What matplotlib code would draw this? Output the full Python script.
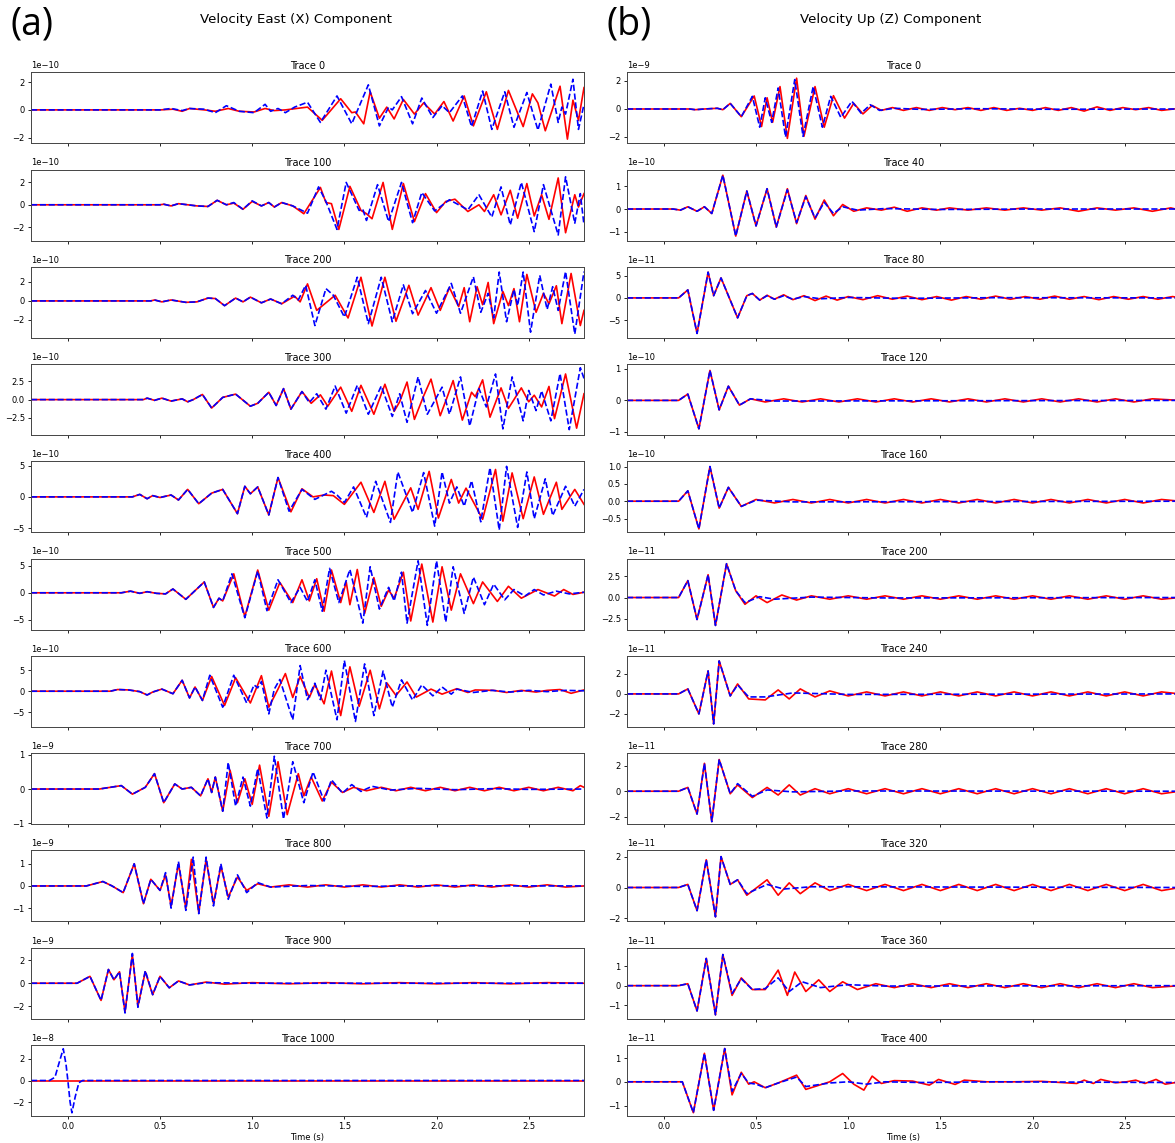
import numpy as np
import matplotlib.pyplot as plt

# ---- panel setup ----
east_traces = [0, 100, 200, 300, 400, 500, 600, 700, 800, 900, 1000]
east_scale = [1e-10] * 7 + [1e-9] * 3 + [1e-8]
east_ylim = [(-2.4, 2.7), (-3.2, 3.15), (-3.9, 3.6), (-4.85, 4.85), (-5.7, 5.7),
             (-6.8, 6.3), (-8.5, 8.4), (-1.03, 1.05), (-1.6, 1.6), (-3.1, 3.1), (-3.3, 3.3)]
east_yticks = [[-2, 0, 2], [-2, 0, 2], [-2, 0, 2], [-2.5, 0, 2.5], [-5, 0, 5],
               [-5, 0, 5], [-5, 0, 5], [-1, 0, 1], [-1, 0, 1], [-2, 0, 2], [-2, 0, 2]]

up_traces = [0, 40, 80, 120, 160, 200, 240, 280, 320, 360, 400]
up_scale = [1e-9, 1e-10, 1e-11, 1e-10, 1e-10, 1e-11, 1e-11, 1e-11, 1e-11, 1e-11, 1e-11]
up_ylim = [(-2.45, 2.62), (-1.4, 1.75), (-9.0, 7.0), (-1.1, 1.15), (-0.9, 1.15),
           (-3.8, 4.6), (-3.3, 3.8), (-2.6, 3.0), (-2.2, 2.4), (-1.7, 1.95), (-1.44, 1.55)]
up_yticks = [[-2, 0, 2], [-1, 0, 1], [-5, 0, 5], [-1, 0, 1], [-0.5, 0.0, 0.5, 1.0],
             [-2.5, 0.0, 2.5], [-2, 0, 2], [-2, 0, 2], [-2, 0, 2], [-1, 0, 1], [-1, 0, 1]]

# ---- east component waveforms (time s, amplitude in panel units) ----
x0_red = [(-0.2, 0), (0.50, 0), (0.57, 0.05), (0.62, -0.1), (0.66, 0.1), (0.74, 0.0), (0.80, -0.1),
          (0.87, 0.1), (0.93, -0.1), (1.01, -0.15), (1.07, 0.1), (1.12, -0.05), (1.18, 0.0), (1.24, 0.1),
          (1.30, 0.2), (1.38, -0.75), (1.48, 0.8), (1.54, -0.2), (1.56, -0.15), (1.605, -1.0), (1.64, 1.3),
          (1.69, -0.6), (1.73, 0.2), (1.77, -0.65), (1.82, 0.75), (1.88, -0.3), (1.93, 0.5), (1.99, -0.3),
          (2.04, 0.6), (2.09, -0.8), (2.15, 1.0), (2.20, -1.15), (2.27, 1.3), (2.33, -1.4), (2.39, 1.4),
          (2.47, -1.2), (2.52, 1.15), (2.55, 0.5), (2.59, -1.5), (2.67, 1.7), (2.71, -2.1), (2.74, 0.7),
          (2.77, -0.75), (2.80, 1.6)]
x0_blue = [(-0.2, 0), (0.50, 0), (0.56, 0.1), (0.62, -0.05), (0.66, 0.1), (0.74, 0.05), (0.80, -0.2),
           (0.86, 0.3), (0.93, -0.1), (1.01, -0.2), (1.07, 0.4), (1.10, -0.1), (1.14, 0.1), (1.18, -0.2),
           (1.23, 0.2), (1.30, 0.55), (1.37, -0.9), (1.46, 1.0), (1.54, -1.0), (1.63, 1.8), (1.69, -1.15),
           (1.74, 0.2), (1.76, 0.0), (1.81, 0.95), (1.87, -1.0), (1.92, 0.85), (1.98, -0.55), (2.03, 0.3),
           (2.07, -0.2), (2.14, 1.0), (2.19, -1.2), (2.25, 1.35), (2.30, -1.4), (2.37, 1.3), (2.42, -1.25),
           (2.49, 1.25), (2.55, -1.45), (2.62, 1.85), (2.66, -0.9), (2.68, 0.2), (2.70, -0.3), (2.74, 2.2),
           (2.77, -1.4), (2.80, 0.4)]

x100_red = [(-0.2, 0), (0.50, 0), (0.52, 0.05), (0.56, -0.1), (0.60, 0.1), (0.65, 0.0), (0.70, -0.1),
            (0.76, -0.15), (0.81, 0.4), (0.86, 0.0), (0.90, 0.15), (0.95, -0.4), (1.00, 0.3), (1.05, -0.1),
            (1.09, 0.2), (1.12, -0.2), (1.16, 0.2), (1.22, -0.1), (1.28, -0.8), (1.37, 1.55), (1.40, 0.2),
            (1.43, 0.1), (1.47, -2.2), (1.53, 1.65), (1.59, -0.5), (1.62, -0.8), (1.65, -1.25), (1.71, 2.0),
            (1.76, -2.2), (1.82, 1.9), (1.88, -1.5), (1.94, 1.0), (2.00, -0.7), (2.05, 0.3), (2.10, 0.5),
            (2.17, -0.6), (2.23, 0.0), (2.26, -0.6), (2.31, 0.9), (2.35, -0.9), (2.40, 1.3), (2.44, -1.2),
            (2.49, 1.9), (2.53, -1.0), (2.57, 0.9), (2.61, -1.3), (2.66, 2.4), (2.70, -2.5), (2.75, 0.9),
            (2.77, -0.2), (2.80, 1.0)]
x100_blue = [(-0.2, 0), (0.50, 0), (0.52, 0.05), (0.56, -0.1), (0.60, 0.1), (0.65, 0.0), (0.70, -0.1),
             (0.76, -0.15), (0.81, 0.4), (0.86, 0.0), (0.90, 0.2), (0.95, -0.4), (1.00, 0.35), (1.05, -0.1),
             (1.09, 0.2), (1.12, -0.2), (1.16, 0.2), (1.22, -0.1), (1.30, -0.75), (1.36, 1.6), (1.40, 0.3),
             (1.46, -2.2), (1.51, 2.0), (1.58, -0.5), (1.60, -0.4), (1.62, -1.4), (1.68, 1.8), (1.74, -1.5),
             (1.81, 2.0), (1.87, -1.6), (1.92, 1.1), (1.99, -0.55), (2.07, 0.45), (2.17, -0.45), (2.23, 0.9),
             (2.30, -1.1), (2.35, 1.6), (2.40, -1.8), (2.46, 2.0), (2.53, -2.4), (2.58, 1.8), (2.66, -2.7),
             (2.70, 2.5), (2.75, -1.65), (2.78, 1.0), (2.80, -1.8)]

x200_red = [(-0.2, 0), (0.45, 0), (0.47, 0.1), (0.51, -0.1), (0.56, 0.1), (0.64, -0.15), (0.70, -0.1),
            (0.76, 0.3), (0.80, 0.25), (0.85, -0.5), (0.91, 0.3), (0.95, -0.1), (0.99, 0.4), (1.05, -0.2),
            (1.10, 0.2), (1.16, -0.3), (1.23, 0.5), (1.26, -0.1), (1.30, 1.8), (1.35, -1.0), (1.45, 0.6),
            (1.52, -1.8), (1.59, 2.5), (1.65, -2.65), (1.72, 2.5), (1.78, -2.15), (1.85, 1.65), (1.90, -1.5),
            (1.97, 1.4), (2.02, -1.0), (2.07, 1.4), (2.12, -0.6), (2.15, 1.4), (2.18, -2.2), (2.22, 1.5),
            (2.25, -0.4), (2.28, 1.95), (2.31, -2.4), (2.36, 1.0), (2.39, -0.5), (2.42, 1.3), (2.45, -2.2),
            (2.49, 2.8), (2.54, -1.2), (2.58, 0.8), (2.61, -0.3), (2.65, 1.6), (2.68, -2.4), (2.73, 2.9),
            (2.78, -2.6), (2.80, -1.0)]
x200_blue = [(-0.2, 0), (0.45, 0), (0.47, 0.1), (0.51, -0.1), (0.56, 0.1), (0.64, -0.15), (0.70, -0.1),
             (0.76, 0.3), (0.80, 0.25), (0.85, -0.5), (0.91, 0.3), (0.95, -0.1), (0.99, 0.4), (1.05, -0.2),
             (1.10, 0.2), (1.16, -0.3), (1.22, 0.6), (1.25, 0.1), (1.29, 1.65), (1.34, -2.6), (1.40, 1.3),
             (1.44, 0.6), (1.50, -1.7), (1.57, 2.5), (1.63, -2.4), (1.70, 2.5), (1.76, -2.2), (1.82, 1.7),
             (1.87, -1.35), (1.94, 1.1), (2.00, -1.3), (2.08, 1.85), (2.13, -1.3), (2.20, 2.55), (2.24, -1.2),
             (2.28, 0.8), (2.31, -1.8), (2.34, 3.05), (2.38, -2.2), (2.42, 1.2), (2.44, -0.5), (2.47, 3.05),
             (2.51, -3.3), (2.56, 2.7), (2.60, -0.9), (2.63, 1.5), (2.66, -1.0), (2.70, 3.1), (2.75, -3.5),
             (2.80, 3.1)]

x300_red = [(-0.2, 0), (0.41, 0), (0.43, 0.2), (0.47, -0.1), (0.51, 0.2), (0.56, -0.2), (0.62, 0.1),
            (0.65, -0.3), (0.68, 0.0), (0.73, 0.7), (0.78, -1.15), (0.84, 0.3), (0.91, 0.75), (0.99, -0.9),
            (1.03, -0.5), (1.09, 1.0), (1.13, -0.8), (1.17, 1.5), (1.21, -1.3), (1.27, 1.1), (1.32, -0.5),
            (1.37, 0.65), (1.41, -0.9), (1.48, 1.7), (1.54, -1.6), (1.59, 1.95), (1.66, -2.0), (1.72, 2.1),
            (1.77, -1.6), (1.80, -0.3), (1.84, 2.4), (1.88, -2.7), (1.93, 0.5), (1.97, 2.8), (2.02, -2.2),
            (2.06, 0.5), (2.09, 2.6), (2.14, -2.8), (2.19, 1.0), (2.21, 0.4), (2.25, 2.7), (2.29, -2.4),
            (2.35, 1.6), (2.39, -1.2), (2.46, 1.6), (2.50, -0.3), (2.53, 0.6), (2.57, -1.0), (2.61, 1.8),
            (2.64, -2.6), (2.70, 3.5), (2.76, -3.9), (2.80, 0.8)]
x300_blue = [(-0.2, 0), (0.41, 0), (0.43, 0.2), (0.47, -0.1), (0.51, 0.2), (0.56, -0.2), (0.62, 0.1),
             (0.65, -0.3), (0.68, 0.0), (0.73, 0.7), (0.78, -1.15), (0.84, 0.3), (0.91, 0.75), (0.99, -0.9),
             (1.03, -0.5), (1.09, 1.0), (1.13, -0.8), (1.17, 1.5), (1.21, -1.3), (1.27, 1.1), (1.31, -0.4),
             (1.35, 0.8), (1.40, -1.3), (1.45, 1.85), (1.51, -1.85), (1.57, 1.95), (1.63, -2.0), (1.70, 1.85),
             (1.76, -2.3), (1.80, 0.8), (1.84, -3.1), (1.90, 3.1), (1.95, -2.0), (2.03, 1.7), (2.07, -2.0),
             (2.13, 3.1), (2.18, -3.6), (2.23, 1.5), (2.27, -1.0), (2.32, 3.5), (2.36, -4.0), (2.41, 3.1),
             (2.47, -2.9), (2.50, 1.25), (2.54, -1.5), (2.57, 1.2), (2.62, -2.9), (2.67, 3.55), (2.72, -4.1),
             (2.78, 4.35), (2.80, 2.9)]

x400_red = [(-0.2, 0), (0.35, 0), (0.39, 0.4), (0.43, -0.3), (0.46, 0.2), (0.50, -0.1), (0.56, 0.3),
            (0.60, -0.5), (0.65, 1.2), (0.71, -1.1), (0.78, 0.6), (0.84, 1.2), (0.92, -2.7), (0.96, 1.7),
            (0.99, 0.5), (1.03, 1.6), (1.09, -2.9), (1.14, 3.1), (1.21, -2.4), (1.27, 1.3), (1.33, 0.0),
            (1.39, 0.3), (1.44, 0.2), (1.50, -1.2), (1.59, 2.35), (1.66, -2.5), (1.72, 2.5), (1.77, -3.6),
            (1.86, 1.45), (1.90, -2.0), (1.96, 4.1), (2.01, -3.4), (2.08, 2.8), (2.12, -1.0), (2.16, 1.4),
            (2.25, -3.6), (2.32, 4.4), (2.36, -3.9), (2.41, 3.85), (2.47, -3.5), (2.53, 3.2), (2.58, -2.8),
            (2.65, 2.35), (2.68, -2.0), (2.75, 1.2), (2.80, -1.2)]
x400_blue = [(-0.2, 0), (0.35, 0), (0.39, 0.4), (0.43, -0.3), (0.46, 0.2), (0.50, -0.1), (0.56, 0.3),
             (0.60, -0.5), (0.65, 1.2), (0.71, -1.1), (0.78, 0.6), (0.84, 1.2), (0.92, -2.7), (0.96, 1.7),
             (0.99, 0.5), (1.03, 1.6), (1.09, -2.9), (1.14, 3.1), (1.20, -2.3), (1.27, 1.2), (1.34, -0.4),
             (1.43, 0.9), (1.46, 0.3), (1.50, -0.9), (1.55, 1.6), (1.62, -3.3), (1.67, 2.5), (1.75, -4.1),
             (1.79, 4.0), (1.87, -2.5), (1.93, 3.9), (1.99, -4.7), (2.03, 4.0), (2.07, -1.0), (2.11, 1.6),
             (2.15, -1.5), (2.19, 2.6), (2.24, -4.0), (2.29, 4.7), (2.34, -5.3), (2.38, 4.9), (2.44, -4.9),
             (2.49, 4.0), (2.53, -3.5), (2.59, 2.9), (2.63, -3.0), (2.70, 1.7), (2.75, -1.5), (2.80, 1.2)]

x500_red = [(-0.2, 0), (0.29, 0), (0.34, 0.3), (0.39, -0.1), (0.43, 0.2), (0.48, -0.1), (0.53, -0.2),
            (0.57, 0.7), (0.64, -1.2), (0.74, 2.0), (0.79, -2.7), (0.82, -1.0), (0.84, -1.5), (0.90, 3.5),
            (0.96, -4.4), (1.03, 4.2), (1.09, -3.2), (1.15, 1.9), (1.22, -1.8), (1.27, 2.4), (1.31, -1.5),
            (1.35, 2.6), (1.39, -3.4), (1.43, 4.2), (1.48, -1.8), (1.51, 2.0), (1.53, -2.2), (1.57, 4.3),
            (1.61, -3.8), (1.66, 2.8), (1.70, -2.5), (1.74, 0.5), (1.77, -1.0), (1.82, 3.8), (1.86, -5.2),
            (1.92, 5.3), (1.98, -5.4), (2.03, 4.8), (2.08, -3.2), (2.13, 3.5), (2.20, -2.0), (2.25, 2.0),
            (2.33, -1.6), (2.39, 1.2), (2.46, -1.0), (2.55, 0.6), (2.64, -0.6), (2.69, 0.6), (2.74, -0.3),
            (2.80, 0.1)]
x500_blue = [(-0.2, 0), (0.29, 0), (0.34, 0.3), (0.39, -0.1), (0.43, 0.2), (0.48, -0.1), (0.53, -0.2),
             (0.57, 0.7), (0.64, -1.2), (0.74, 2.0), (0.79, -2.7), (0.82, -1.0), (0.84, -1.5), (0.89, 3.5),
             (0.96, -4.6), (1.03, 4.0), (1.08, -3.3), (1.14, 2.4), (1.21, -1.8), (1.26, 1.0), (1.30, -1.6),
             (1.34, 2.4), (1.38, -3.4), (1.42, 4.5), (1.47, -1.8), (1.53, 4.3), (1.60, -5.6), (1.64, 4.8),
             (1.69, -3.0), (1.74, 1.0), (1.77, -1.5), (1.81, 3.8), (1.84, -5.6), (1.90, 5.9), (1.95, -6.0),
             (2.00, 5.9), (2.05, -5.4), (2.09, 4.8), (2.15, -3.8), (2.20, 2.9), (2.26, -2.2), (2.31, 1.6),
             (2.37, -1.3), (2.42, 0.6), (2.48, -0.6), (2.53, 0.6), (2.58, -0.4), (2.65, 0.3), (2.72, -0.2),
             (2.80, 0.1)]

x600_red = [(-0.2, 0), (0.23, 0), (0.27, 0.4), (0.33, 0.3), (0.39, -0.1), (0.43, -0.9), (0.46, -0.2),
            (0.51, 0.5), (0.57, -0.6), (0.62, 2.6), (0.66, -1.6), (0.69, 1.0), (0.73, -2.2), (0.78, 3.5),
            (0.85, -3.4), (0.91, 3.2), (0.99, -2.8), (1.05, 3.7), (1.09, -3.8), (1.14, 0.5), (1.18, 4.2),
            (1.22, -1.5), (1.26, 3.5), (1.31, -1.5), (1.34, 1.6), (1.39, -3.0), (1.43, 4.8), (1.48, -5.8),
            (1.53, 5.8), (1.58, -3.6), (1.64, 5.0), (1.69, -4.2), (1.73, 2.0), (1.78, -1.0), (1.84, 2.2),
            (1.89, -1.4), (1.97, 0.5), (2.03, -0.7), (2.11, 0.6), (2.17, -0.3), (2.21, 0.3), (2.31, 0.2),
            (2.38, -0.3), (2.46, 0.2), (2.54, -0.2), (2.60, 0.2), (2.67, 0.4), (2.73, -0.5), (2.80, 0.3)]
x600_blue = [(-0.2, 0), (0.23, 0), (0.27, 0.4), (0.33, 0.3), (0.39, -0.1), (0.43, -0.9), (0.46, -0.2),
             (0.51, 0.5), (0.57, -0.6), (0.62, 2.6), (0.66, -1.6), (0.69, 1.0), (0.73, -2.2), (0.77, 3.8),
             (0.84, -3.8), (0.90, 3.8), (0.97, -2.8), (1.01, 1.5), (1.03, 0.8), (1.05, 2.3), (1.09, -5.4),
             (1.12, 0.5), (1.15, 2.8), (1.22, -6.8), (1.26, 6.1), (1.30, -2.0), (1.34, 1.9), (1.37, -2.0),
             (1.40, 5.0), (1.46, -6.8), (1.50, 7.3), (1.56, -7.2), (1.61, 6.5), (1.66, -5.8), (1.71, 4.8),
             (1.76, -3.8), (1.81, 2.7), (1.87, -2.1), (1.92, 1.5), (1.98, -1.1), (2.03, 1.0), (2.08, -0.7),
             (2.11, 0.5), (2.20, -0.3), (2.30, 0.2), (2.40, -0.2), (2.50, 0.2), (2.60, -0.1), (2.70, 0.2),
             (2.80, 0.1)]

x700_red = [(-0.2, 0), (0.17, 0), (0.23, 0.05), (0.29, 0.1), (0.35, -0.15), (0.42, 0.05), (0.47, 0.45),
            (0.52, -0.4), (0.58, 0.15), (0.62, 0.0), (0.67, 0.05), (0.72, -0.2), (0.76, 0.3), (0.78, -0.1),
            (0.80, 0.35), (0.84, -0.65), (0.88, 0.55), (0.92, -0.4), (0.96, 0.3), (1.00, -0.45), (1.04, 0.7),
            (1.09, -0.8), (1.14, 0.8), (1.19, -0.75), (1.25, 0.45), (1.28, -0.2), (1.32, 0.35), (1.38, -0.35),
            (1.43, 0.2), (1.49, -0.1), (1.55, 0.05), (1.62, -0.05), (1.70, 0.05), (1.78, -0.05), (1.86, 0.05),
            (1.94, -0.05), (2.02, 0.05), (2.10, -0.05), (2.18, 0.05), (2.26, -0.05), (2.34, 0.05), (2.42, -0.05),
            (2.50, 0.05), (2.58, -0.05), (2.66, 0.05), (2.74, -0.05), (2.78, 0.1), (2.80, 0.05)]
x700_blue = [(-0.2, 0), (0.17, 0), (0.23, 0.05), (0.29, 0.1), (0.35, -0.15), (0.42, 0.05), (0.47, 0.45),
             (0.52, -0.4), (0.58, 0.15), (0.62, 0.0), (0.67, 0.05), (0.72, -0.2), (0.76, 0.3), (0.78, -0.1),
             (0.80, 0.35), (0.84, -0.65), (0.87, 0.78), (0.91, -0.5), (0.95, 0.35), (0.99, -0.5), (1.03, 0.6),
             (1.08, -0.85), (1.12, 0.96), (1.17, -0.88), (1.22, 0.8), (1.28, -0.4), (1.33, 0.5), (1.39, -0.35),
             (1.43, 0.27), (1.49, -0.12), (1.54, 0.13), (1.59, -0.07), (1.65, 0.08), (1.75, -0.03),
             (1.90, 0.02), (2.10, -0.02), (2.30, 0.01), (2.50, -0.01), (2.80, 0.0)]

x800_red = [(-0.2, 0), (0.10, 0), (0.19, 0.2), (0.24, 0.0), (0.30, -0.3), (0.36, 1.0), (0.41, -0.8),
            (0.45, 0.3), (0.50, -0.2), (0.53, 0.5), (0.56, -0.9), (0.60, 1.0), (0.64, -1.0), (0.67, 1.2),
            (0.71, -1.2), (0.75, 1.2), (0.79, -0.8), (0.83, 0.9), (0.87, -0.5), (0.92, 0.4), (0.97, -0.2),
            (1.03, 0.1), (1.10, -0.05), (1.20, 0.05), (1.30, -0.05), (1.40, 0.05), (1.50, -0.05),
            (1.60, 0.05), (1.70, -0.05), (1.80, 0.05), (1.90, -0.05), (2.00, 0.05), (2.10, -0.05),
            (2.20, 0.05), (2.30, -0.05), (2.40, 0.05), (2.50, -0.05), (2.60, 0.05), (2.70, -0.05), (2.80, 0.0)]
x800_blue = [(-0.2, 0), (0.10, 0), (0.19, 0.2), (0.24, 0.0), (0.30, -0.3), (0.36, 1.0), (0.41, -0.8),
             (0.45, 0.3), (0.50, -0.2), (0.53, 0.6), (0.56, -1.0), (0.60, 1.1), (0.64, -1.1), (0.68, 1.3),
             (0.71, -1.25), (0.75, 1.3), (0.79, -0.9), (0.83, 1.0), (0.87, -0.6), (0.92, 0.5), (0.97, -0.3),
             (1.03, 0.15), (1.10, -0.05), (1.30, 0.02), (1.60, -0.02), (2.00, 0.01), (2.80, 0.0)]

x900_red = [(-0.2, 0), (0.05, 0), (0.12, 0.6), (0.18, -1.5), (0.22, 1.2), (0.25, 0.3), (0.28, 1.0),
            (0.31, -2.5), (0.35, 2.5), (0.38, -2.0), (0.42, 1.0), (0.46, -1.0), (0.50, 0.6), (0.55, -0.4),
            (0.60, 0.2), (0.66, -0.15), (0.75, 0.1), (0.85, -0.08), (1.0, 0.05), (1.2, -0.05), (1.4, 0.05),
            (1.6, -0.05), (1.8, 0.05), (2.0, -0.05), (2.2, 0.05), (2.4, -0.05), (2.6, 0.05), (2.80, 0.0)]
x900_blue = [(-0.2, 0), (0.05, 0), (0.12, 0.6), (0.18, -1.5), (0.22, 1.2), (0.25, 0.3), (0.28, 1.0),
             (0.31, -2.6), (0.35, 2.6), (0.38, -2.1), (0.42, 1.1), (0.46, -1.0), (0.50, 0.6), (0.55, -0.4),
             (0.60, 0.2), (0.66, -0.15), (0.75, 0.05), (1.0, 0.0), (2.80, 0.0)]

x1000_red = [(-0.2, 0), (2.80, 0)]
x1000_blue = [(-0.2, 0), (-0.10, 0), (-0.07, 0.3), (-0.05, 1.5), (-0.025, 2.95), (-0.01, 1.5), (0.0, 0),
              (0.012, -2.0), (0.022, -3.0), (0.04, -1.5), (0.06, -0.2), (0.08, 0), (2.80, 0)]

# ---- up component waveforms ----
z0_red = [(-0.2, 0), (0.14, 0), (0.17, -0.05), (0.22, 0.0), (0.29, 0.05), (0.32, -0.05), (0.36, 0.4),
          (0.42, -0.55), (0.49, 0.93), (0.53, -1.25), (0.56, 0.8), (0.59, -0.95), (0.63, 1.6), (0.67, -2.1),
          (0.72, 2.2), (0.76, -1.95), (0.82, 1.6), (0.87, -1.3), (0.92, 0.95), (0.98, -0.65), (1.03, 0.4),
          (1.08, -0.35), (1.13, 0.25), (1.18, -0.1), (1.24, 0.1), (1.30, -0.1), (1.37, 0.1), (1.44, -0.1),
          (1.51, 0.1), (1.58, -0.05), (1.65, 0.1), (1.72, -0.1), (1.79, 0.1), (1.86, -0.1), (1.93, 0.05),
          (2.00, -0.1), (2.07, 0.1), (2.14, -0.1), (2.21, 0.1), (2.28, -0.15), (2.35, 0.15), (2.42, -0.1),
          (2.49, 0.1), (2.56, -0.05), (2.63, 0.1), (2.70, -0.1), (2.80, 0.05)]
z0_blue = [(-0.2, 0), (0.14, 0), (0.17, -0.05), (0.22, 0.0), (0.29, 0.05), (0.32, -0.05), (0.36, 0.4),
           (0.42, -0.55), (0.48, 0.9), (0.52, -1.3), (0.55, 0.8), (0.585, -0.95), (0.62, 1.5), (0.66, -2.0),
           (0.71, 2.1), (0.755, -1.95), (0.81, 1.6), (0.86, -1.3), (0.905, 0.9), (0.96, -0.6), (1.02, 0.55),
           (1.07, -0.3), (1.12, 0.3), (1.17, -0.1), (1.25, 0.05), (1.40, -0.03), (1.70, 0.02), (2.10, -0.02),
           (2.80, 0.0)]

z40_red = [(-0.2, 0), (0.05, 0), (0.09, -0.05), (0.13, 0.1), (0.18, -0.1), (0.22, 0.1), (0.26, -0.2),
           (0.32, 1.5), (0.39, -1.2), (0.45, 0.8), (0.50, -0.75), (0.56, 0.9), (0.61, -0.8), (0.67, 0.9),
           (0.72, -0.65), (0.77, 0.6), (0.82, -0.45), (0.87, 0.4), (0.92, -0.3), (0.97, 0.2), (1.03, -0.1),
           (1.10, 0.05), (1.18, -0.05), (1.25, 0.08), (1.32, -0.1), (1.40, 0.05), (1.48, -0.05), (1.55, 0.05),
           (1.65, -0.05), (1.75, 0.05), (1.85, -0.05), (1.95, 0.05), (2.05, -0.05), (2.15, 0.05), (2.25, -0.1),
           (2.35, 0.05), (2.45, -0.05), (2.55, 0.05), (2.65, -0.1), (2.75, 0.05), (2.80, -0.05)]
z40_blue = [(-0.2, 0), (0.05, 0), (0.09, -0.05), (0.13, 0.1), (0.18, -0.1), (0.22, 0.1), (0.26, -0.2),
            (0.32, 1.5), (0.39, -1.2), (0.45, 0.8), (0.50, -0.75), (0.56, 0.9), (0.61, -0.8), (0.67, 0.85),
            (0.72, -0.6), (0.77, 0.55), (0.82, -0.4), (0.87, 0.3), (0.92, -0.2), (0.97, 0.1), (1.05, -0.05),
            (1.20, 0.02), (1.50, -0.02), (2.00, 0.0), (2.80, 0.0)]

z80_red = [(-0.2, 0), (0.08, 0), (0.13, 1.8), (0.18, -8.0), (0.24, 5.8), (0.27, 0.5), (0.31, 4.5),
           (0.40, -4.5), (0.45, 0.5), (0.48, 1.0), (0.52, -0.5), (0.56, 0.6), (0.60, -0.3), (0.65, 0.7),
           (0.70, -0.4), (0.76, 0.5), (0.82, -0.6), (0.88, 0.4), (0.94, -0.5), (1.00, 0.3), (1.08, -0.4),
           (1.16, 0.5), (1.24, -0.3), (1.32, 0.4), (1.40, -0.4), (1.48, 0.3), (1.56, -0.5), (1.64, 0.3),
           (1.72, -0.3), (1.80, 0.4), (1.88, -0.3), (1.96, 0.3), (2.04, -0.3), (2.12, 0.4), (2.20, -0.3),
           (2.28, 0.3), (2.36, -0.4), (2.44, 0.3), (2.52, -0.3), (2.60, 0.3), (2.68, -0.3), (2.76, 0.3),
           (2.80, 0.0)]
z80_blue = [(-0.2, 0), (0.08, 0), (0.13, 1.8), (0.18, -8.0), (0.24, 5.8), (0.27, 0.5), (0.31, 4.5),
            (0.40, -4.5), (0.45, 0.5), (0.48, 1.0), (0.52, -0.5), (0.56, 0.5), (0.60, -0.3), (0.65, 0.5),
            (0.70, -0.3), (0.76, 0.3), (0.85, -0.2), (1.00, 0.1), (1.30, -0.1), (1.80, 0.05), (2.80, 0.0)]

z120_red = [(-0.2, 0), (0.08, 0), (0.13, 0.2), (0.19, -0.9), (0.25, 0.95), (0.30, -0.3), (0.35, 0.45),
            (0.41, -0.15), (0.47, 0.05), (0.55, -0.05), (0.65, 0.05), (0.75, -0.05), (0.85, 0.05),
            (0.95, -0.05), (1.05, 0.05), (1.15, -0.05), (1.25, 0.05), (1.35, -0.05), (1.45, 0.05),
            (1.55, -0.05), (1.65, 0.05), (1.75, -0.05), (1.85, 0.05), (1.95, -0.05), (2.05, 0.05),
            (2.15, -0.05), (2.25, 0.05), (2.35, -0.05), (2.45, 0.05), (2.55, -0.05), (2.65, 0.05), (2.80, 0.0)]
z120_blue = [(-0.2, 0), (0.08, 0), (0.13, 0.2), (0.19, -0.9), (0.25, 0.95), (0.30, -0.3), (0.35, 0.45),
             (0.41, -0.15), (0.47, 0.05), (0.60, -0.02), (2.80, 0.0)]

z160_red = [(-0.2, 0), (0.08, 0), (0.13, 0.3), (0.19, -0.8), (0.25, 1.0), (0.30, -0.2), (0.35, 0.4),
            (0.42, -0.15), (0.50, 0.05), (0.60, -0.05), (0.70, 0.05), (0.80, -0.05), (0.90, 0.05),
            (1.00, -0.05), (1.10, 0.05), (1.20, -0.05), (1.30, 0.05), (1.40, -0.05), (1.50, 0.05),
            (1.60, -0.05), (1.70, 0.05), (1.80, -0.05), (1.90, 0.05), (2.00, -0.05), (2.10, 0.05),
            (2.20, -0.05), (2.30, 0.05), (2.40, -0.05), (2.50, 0.05), (2.60, -0.05), (2.70, 0.05), (2.80, 0.0)]
z160_blue = [(-0.2, 0), (0.08, 0), (0.13, 0.3), (0.19, -0.8), (0.25, 1.0), (0.30, -0.2), (0.35, 0.4),
             (0.42, -0.15), (0.50, 0.03), (0.70, -0.02), (2.80, 0.0)]

z200_red = [(-0.2, 0), (0.08, 0), (0.13, 2.0), (0.18, -2.6), (0.24, 2.7), (0.28, -3.3), (0.34, 4.0),
            (0.39, 0.8), (0.44, -0.8), (0.50, 0.2), (0.56, -0.6), (0.64, 0.3), (0.72, -0.3), (0.80, 0.2),
            (0.90, -0.2), (1.00, 0.2), (1.10, -0.2), (1.20, 0.2), (1.30, -0.2), (1.40, 0.2), (1.50, -0.2),
            (1.60, 0.2), (1.70, -0.2), (1.80, 0.2), (1.90, -0.2), (2.00, 0.2), (2.10, -0.2), (2.20, 0.2),
            (2.30, -0.2), (2.40, 0.2), (2.50, -0.2), (2.60, 0.2), (2.70, -0.2), (2.80, 0.0)]
z200_blue = [(-0.2, 0), (0.08, 0), (0.13, 2.0), (0.18, -2.6), (0.24, 2.7), (0.28, -3.3), (0.34, 4.0),
             (0.39, 0.8), (0.44, -0.6), (0.52, 0.1), (0.60, -0.2), (0.80, 0.05), (1.20, -0.05), (2.80, 0.0)]

z240_red = [(-0.2, 0), (0.08, 0), (0.13, 0.5), (0.19, -2.0), (0.24, 2.3), (0.27, -3.0), (0.30, 3.3),
            (0.36, -0.2), (0.40, 1.0), (0.46, -0.5), (0.55, -0.6), (0.62, 0.4), (0.68, -0.5), (0.74, 0.5),
            (0.82, -0.3), (0.90, 0.3), (1.00, -0.2), (1.10, 0.2), (1.20, -0.2), (1.30, 0.2), (1.40, -0.2),
            (1.50, 0.2), (1.60, -0.2), (1.70, 0.2), (1.80, -0.2), (1.90, 0.2), (2.00, -0.2), (2.10, 0.2),
            (2.20, -0.2), (2.30, 0.2), (2.40, -0.2), (2.50, 0.2), (2.60, -0.2), (2.70, 0.2), (2.80, 0.0)]
z240_blue = [(-0.2, 0), (0.08, 0), (0.13, 0.5), (0.19, -2.0), (0.24, 2.3), (0.27, -3.0), (0.30, 3.3),
             (0.36, -0.2), (0.40, 0.9), (0.46, -0.3), (0.55, -0.3), (0.70, 0.1), (1.00, -0.05), (2.80, 0.0)]

z280_red = [(-0.2, 0), (0.08, 0), (0.13, 0.3), (0.18, -1.8), (0.22, 2.2), (0.26, -2.4), (0.30, 2.5),
            (0.36, -0.2), (0.40, 0.5), (0.48, -0.5), (0.56, 0.3), (0.62, -0.3), (0.68, 0.5), (0.74, -0.3),
            (0.82, 0.2), (0.90, -0.2), (1.00, 0.2), (1.10, -0.2), (1.20, 0.2), (1.30, -0.2), (1.40, 0.2),
            (1.50, -0.2), (1.60, 0.2), (1.70, -0.2), (1.80, 0.2), (1.90, -0.2), (2.00, 0.2), (2.10, -0.2),
            (2.20, 0.2), (2.30, -0.2), (2.40, 0.2), (2.50, -0.2), (2.60, 0.2), (2.70, -0.2), (2.80, 0.0)]
z280_blue = [(-0.2, 0), (0.08, 0), (0.13, 0.3), (0.18, -1.8), (0.22, 2.2), (0.26, -2.4), (0.30, 2.5),
             (0.36, -0.2), (0.40, 0.6), (0.48, -0.4), (0.56, 0.1), (0.70, -0.05), (1.00, 0.02), (2.80, 0.0)]

z320_red = [(-0.2, 0), (0.08, 0), (0.13, 0.2), (0.18, -1.5), (0.23, 1.8), (0.28, -1.9), (0.31, 2.0),
            (0.36, 0.2), (0.40, 0.5), (0.45, -0.5), (0.56, 0.5), (0.62, -0.5), (0.68, 0.3), (0.74, -0.4),
            (0.82, 0.3), (0.90, -0.2), (1.00, 0.2), (1.10, -0.2), (1.20, 0.2), (1.30, -0.2), (1.40, 0.2),
            (1.50, -0.2), (1.60, 0.2), (1.70, -0.2), (1.80, 0.2), (1.90, -0.2), (2.00, 0.2), (2.10, -0.2),
            (2.20, 0.2), (2.30, -0.2), (2.40, 0.2), (2.50, -0.2), (2.60, 0.2), (2.70, -0.2), (2.80, 0.0)]
z320_blue = [(-0.2, 0), (0.08, 0), (0.13, 0.2), (0.18, -1.5), (0.23, 1.8), (0.28, -1.9), (0.31, 2.0),
             (0.36, 0.2), (0.40, 0.5), (0.45, -0.4), (0.56, 0.2), (0.65, -0.1), (0.80, 0.05), (2.80, 0.0)]

z360_red = [(-0.2, 0), (0.08, 0), (0.13, 0.1), (0.18, -1.3), (0.23, 1.4), (0.28, -1.5), (0.32, 1.6),
            (0.37, -0.5), (0.42, 0.4), (0.48, -0.2), (0.55, -0.2), (0.62, 0.8), (0.67, -0.5), (0.71, 0.7),
            (0.77, -0.3), (0.84, 0.3), (0.90, -0.3), (0.97, 0.2), (1.05, -0.2), (1.15, 0.1), (1.25, -0.1),
            (1.35, 0.1), (1.45, -0.1), (1.55, 0.1), (1.65, -0.1), (1.75, 0.1), (1.85, -0.1), (1.95, 0.1),
            (2.05, -0.1), (2.15, 0.1), (2.25, -0.1), (2.35, 0.1), (2.45, -0.1), (2.55, 0.1), (2.65, -0.1),
            (2.80, 0.0)]
z360_blue = [(-0.2, 0), (0.08, 0), (0.13, 0.1), (0.18, -1.3), (0.23, 1.4), (0.28, -1.5), (0.32, 1.6),
             (0.37, -0.4), (0.42, 0.35), (0.48, -0.2), (0.55, -0.15), (0.62, 0.4), (0.68, -0.3), (0.75, 0.2),
             (0.85, -0.1), (1.00, 0.05), (1.20, -0.02), (2.80, 0.0)]

z400_red = [(-0.2, 0), (0.10, 0), (0.16, -1.3), (0.22, 1.2), (0.27, -1.2), (0.33, 1.4), (0.37, -0.55),
            (0.42, 0.4), (0.46, -0.1), (0.49, 0.0), (0.55, -0.25), (0.62, -0.05), (0.72, 0.28), (0.77, -0.32),
            (0.90, 0.0), (0.97, 0.35), (1.03, -0.1), (1.085, -0.35), (1.13, 0.24), (1.18, -0.07), (1.25, 0.05),
            (1.35, 0.03), (1.44, -0.14), (1.49, 0.1), (1.58, -0.11), (1.63, 0.07), (1.75, 0.0), (1.90, 0.0),
            (2.05, 0.02), (2.24, -0.07), (2.28, 0.07), (2.33, -0.07), (2.37, 0.1), (2.45, -0.04), (2.51, 0.0),
            (2.56, 0.07), (2.61, -0.07), (2.67, 0.1), (2.72, -0.1), (2.80, 0.0)]
z400_blue = [(-0.2, 0), (0.10, 0), (0.16, -1.3), (0.22, 1.2), (0.27, -1.2), (0.33, 1.4), (0.37, -0.4),
             (0.42, 0.35), (0.46, -0.05), (0.50, -0.1), (0.55, -0.25), (0.62, -0.05), (0.72, 0.2),
             (0.77, -0.2), (0.90, -0.05), (1.00, 0.0), (1.10, -0.1), (1.20, 0.0), (1.40, -0.03),
             (1.80, 0.0), (2.80, -0.03)]

east_red = [x0_red, x100_red, x200_red, x300_red, x400_red, x500_red, x600_red, x700_red,
            x800_red, x900_red, x1000_red]
east_blue = [x0_blue, x100_blue, x200_blue, x300_blue, x400_blue, x500_blue, x600_blue, x700_blue,
             x800_blue, x900_blue, x1000_blue]
up_red = [z0_red, z40_red, z80_red, z120_red, z160_red, z200_red, z240_red, z280_red,
          z320_red, z360_red, z400_red]
up_blue = [z0_blue, z40_blue, z80_blue, z120_blue, z160_blue, z200_blue, z240_blue, z280_blue,
           z320_blue, z360_blue, z400_blue]

# ---- figure ----
W, H = 1175, 1143
fig = plt.figure(figsize=(W / 100, H / 100), dpi=100)

columns = [
    (31, east_traces, east_scale, east_ylim, east_yticks, east_red, east_blue),
    (627, up_traces, up_scale, up_ylim, up_yticks, up_red, up_blue),
]

for left_px, traces, scales, ylims, yticks, reds, blues in columns:
    for row in range(11):
        top = 72.3 + 97.27 * row
        ax = fig.add_axes([left_px / W, 1 - (top + 71) / H, 553 / W, 71 / H])
        s = scales[row]
        t, v = zip(*reds[row])
        ax.plot(t, np.array(v) * s, color='red', lw=1.2, solid_joinstyle='round')
        t, v = zip(*blues[row])
        ax.plot(t, np.array(v) * s, color='blue', ls='--', lw=1.2, dash_joinstyle='round')
        ax.set_xlim(-0.2, 2.8)
        ax.set_ylim(ylims[row][0] * s, ylims[row][1] * s)
        ax.set_yticks(np.array(yticks[row]) * s)
        ax.set_xticks([0, 0.5, 1.0, 1.5, 2.0, 2.5])
        ax.set_title(f'Trace {traces[row]}', fontsize=7, pad=2.5)
        ax.tick_params(labelsize=6, length=2.5, width=0.6, pad=2)
        ax.yaxis.get_offset_text().set_fontsize(6)
        for sp in ax.spines.values():
            sp.set_linewidth(0.7)
            sp.set_color('#444444')
        if row < 10:
            ax.tick_params(labelbottom=False)
        else:
            ax.set_xlabel('Time (s)', fontsize=6, labelpad=1)

fig.text(296 / W, 1 - 20 / H, 'Velocity East (X) Component', fontsize=9.6, ha='center', va='center')
fig.text(891 / W, 1 - 20 / H, 'Velocity Up (Z) Component', fontsize=9.6, ha='center', va='center')
fig.text(11 / W, 1 - 25 / H, '(a)', fontsize=27, family='Open Sans', ha='left', va='center')
fig.text(606 / W, 1 - 25 / H, '(b)', fontsize=27, family='Open Sans', ha='left', va='center')

fig.savefig('out.png', dpi=100)
